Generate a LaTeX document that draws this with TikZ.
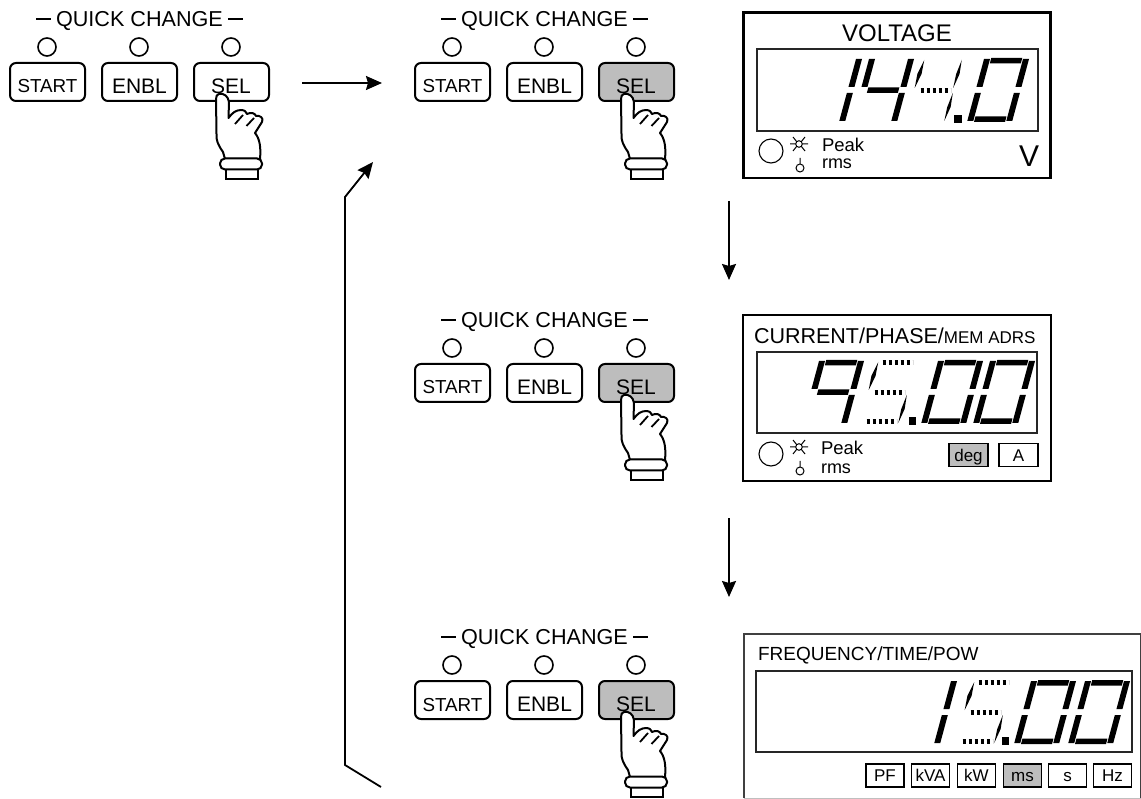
\documentclass[tikz,border=0pt]{standalone}
\usepackage{fontspec}
\setmainfont{Liberation Sans}
\usetikzlibrary{arrows.meta}
\definecolor{btngray}{HTML}{BDBDBD}
\newcommand{\fs}[1]{\fontsize{#1}{#1}\selectfont}
\tikzset{
  txt/.style={inner sep=0pt,outer sep=0pt,text=black,anchor=base},
  led/.style={circle,draw=black,line width=1.6pt,minimum size=18pt,inner sep=0pt,fill=white},
  btn/.style={draw=black,line width=2pt,rounded corners=6pt,minimum width=75pt,minimum height=38pt,inner sep=0pt},
  unitbox/.style={draw=black,line width=1.5pt,minimum width=38pt,minimum height=23pt,inner sep=0pt,font=\fs{17},text height=12pt,text depth=0pt},
  flow/.style={line width=1.8pt,-{Stealth[length=16pt,width=14pt,inset=2pt]}},
  outer/.style={draw=black,line width=2.2pt,fill=white},
  window/.style={draw=black!85,line width=1.1pt}
}
% seven-segment pieces, in a slanted local frame
\newcommand{\segA}{\fill (7,-64) rectangle (38,-58.5);}
\newcommand{\segG}{\fill (7,-34.5) rectangle (38,-29);}
\newcommand{\segD}{\fill (7,-5.5) rectangle (38,0);}
\newcommand{\segF}{\fill (0,-63) rectangle (6,-35);}
\newcommand{\segE}{\fill (0,-29) rectangle (6,-1);}
\newcommand{\segB}{\fill (39,-63) rectangle (45,-35);}
\newcommand{\segC}{\fill (39,-29) rectangle (45,-1);}
\newcommand{\ghA}{\draw[line width=5.5pt,dash pattern=on 3pt off 3pt] (8,-61.5) -- (38,-61.5);}
\newcommand{\ghG}{\draw[line width=5.5pt,dash pattern=on 3pt off 3pt] (8,-31.5) -- (38,-31.5);}
\newcommand{\ghD}{\draw[line width=5.5pt,dash pattern=on 3pt off 3pt] (8,-2.5) -- (38,-2.5);}
\newcommand{\ghF}{\fill (3.5,-62) -- (4.6,-48) -- (1.5,-34) -- (0.4,-48) -- cycle;}
\newcommand{\ghB}{\fill (41,-62) -- (42.6,-48) -- (40,-34) -- (39.2,-48) -- cycle;}
\newcommand{\ghC}{\fill (41,-29) -- (42.6,-15) -- (40,-1) -- (39.2,-15) -- cycle;}
\newcommand{\digit}[3]{\begin{scope}[shift={(#1,#2)},cm={1,0,0.27,1,(0,0)}]#3\end{scope}}
% front-panel group with pressing hand
\newcommand{\panel}[4]{%
\begin{scope}[shift={(#2,#3)}]
  \node[txt,font=\fs{21.6}] (#1title) at (139.5,26.5) {QUICK CHANGE};
  \draw[line width=1.4pt] (36,19) -- (51,19) (228,19) -- (243,19);
  \node[led] (#1ledA) at (47,47) {};
  \node[led] (#1ledB) at (139,47) {};
  \node[led] (#1ledC) at (231,47) {};
  \node[btn] (#1start) at (47.5,82) {};
  \node[btn] (#1enbl) at (139.5,82) {};
  \node[btn,fill=#4] (#1sel) at (231.5,82) {};
  \node[txt,font=\fs{18.8}] (#1startT) at (47.5,93) {START};
  \node[txt,font=\fs{21}] (#1enblT) at (139.5,93.5) {ENBL};
  \node[txt,font=\fs{21}] (#1selT) at (231,93.5) {SEL};
  \draw[line width=2pt,fill=white,line join=round]
    (219,94) .. controls (224,93) and (228,96) .. (229,102)
    -- (228.5,118) .. controls (232,113) and (236,110) .. (241,110)
    .. controls (245,110) and (246,112) .. (247,114)
    .. controls (251,112) and (255,113) .. (256,116)
    .. controls (260,115) and (264,118) .. (262,122)
    -- (255,133) .. controls (260,139) and (261,148) .. (260,159)
    -- (225,159) -- (223,152) .. controls (218,145) and (216,140) .. (216.5,134)
    -- (216,99) .. controls (216,96) and (217,94.5) .. (219,94) -- cycle;
  \draw[line width=1.8pt] (235,124) -- (243,115) (246.5,126) -- (254,118);
  \draw[line width=2pt,fill=white] (226,168) rectangle (258,179);
  \draw[line width=2pt,fill=white,rounded corners=5pt] (220,158.5) rectangle (262,169.5);
\end{scope}}
\newcommand{\sunlamp}[2]{%
\begin{scope}[shift={(#1,#2)},line width=1pt]
  \draw (0,0) circle (3.3);
  \draw (-9,0) -- (-3.3,0) (3.3,0) -- (9,0) (-2.3,-2.3) -- (-6,-7) (2.3,-2.3) -- (6,-7) (-2.3,2.3) -- (-6,7) (2.3,2.3) -- (6,7);
  \draw (1,24) circle (4) (1,20) -- (1,14);
\end{scope}}
\begin{document}
\begin{tikzpicture}[x=1pt,y=-1pt]
\useasboundingbox (0,0) rectangle (1141,799);
\fill[white] (0,0) rectangle (1141,799);
\panel{p}{0}{0}{white}
\panel{q}{405}{0}{btngray}
\panel{r}{405}{301}{btngray}
\panel{s}{405}{618}{btngray}

% connectors
\coordinate (a1) at (302,83); \coordinate (a2) at (382,83);
\coordinate (b1) at (729,201); \coordinate (b2) at (729,280);
\coordinate (c1) at (729,518); \coordinate (c2) at (729,597);
\coordinate (d1) at (381,787); \coordinate (d2) at (345,765); \coordinate (d3) at (345,197); \coordinate (d4) at (373,162);
\draw[flow] (a1) -- (a2);
\draw[flow] (b1) -- (b2);
\draw[flow] (c1) -- (c2);
\draw[flow,line join=miter] (d1) -- (d2) -- (d3) -- (d4);

% display 1
\draw[outer] (743.5,12.5) rectangle (1050.5,178);
\draw[window] (757,49) rectangle (1038,131);
\node[txt,font=\fs{24}] (v1) at (897,42) {VOLTAGE};
\digit{800}{122}{\segB\segC}
\digit{852}{122}{\segF\segG\segB\segC}
\digit{904}{122}{\ghF\ghG\ghB\ghC}
\fill (954,115) rectangle (962,122.7);
\digit{967}{122}{\segA\segB\segC\segD\segE\segF}
\draw[line width=1.1pt] (771,151) circle (12);
\sunlamp{799}{144}
\node[txt,font=\fs{18.5},anchor=base west] (v2) at (822,152) {Peak};
\node[txt,font=\fs{18},anchor=base west] (v3) at (822,168.5) {rms};
\node[txt,font=\fs{30}] (v4) at (1029,167) {V};

% display 2
\draw[outer] (743,315) rectangle (1051,481);
\draw[window] (757,352) rectangle (1037,433);
\node[txt,anchor=base west] (c0) at (754,344) {\fs{21.5}CURRENT/PHASE/\fs{17}MEM ADRS};
\digit{802}{424}{\segA\segF\segG\segB\segC}
\digit{858}{424}{\ghA\ghF\ghG\ghC\ghD}
\fill (909,417) rectangle (916,425);
\digit{921}{424}{\segA\segB\segC\segD\segE\segF}
\digit{973}{424}{\segA\segB\segC\segD\segE\segF}
\draw[line width=1.1pt] (771,454) circle (12);
\sunlamp{799}{447}
\node[txt,font=\fs{18.5},anchor=base west] (c2) at (821,455) {Peak};
\node[txt,font=\fs{18},anchor=base west] (c3) at (821,474) {rms};
\node[unitbox,fill=btngray,minimum width=39pt] (c4) at (968.5,455) {deg};
\node[unitbox,minimum width=39pt] (c5) at (1018.5,455) {A};

% display 3
\draw[line width=1.1pt,draw=black!75] (744,798) -- (744,634) -- (1140.5,634) -- (1140.5,798);
\draw[line width=0.6pt,draw=black!25] (744,798) -- (1140.5,798);
\draw[window] (756,671) rectangle (1132,752);
\node[txt,font=\fs{19},anchor=base west] (f0) at (758,660) {FREQUENCY/TIME/POW};
\digit{895}{744}{\segB\segC}
\digit{954}{744}{\ghA\ghF\ghG\ghC\ghD}
\fill (1002,737) rectangle (1009,745);
\digit{1014}{744}{\segA\segB\segC\segD\segE\segF}
\digit{1068}{744}{\segA\segB\segC\segD\segE\segF}
\node[unitbox] (f1) at (885,775.5) {PF};
\node[unitbox] (f2) at (930.5,775.5) {kVA};
\node[unitbox] (f3) at (976.5,775.5) {kW};
\node[unitbox,fill=btngray] (f4) at (1022.5,775.5) {ms};
\node[unitbox] (f5) at (1067.5,775.5) {s};
\node[unitbox] (f6) at (1112.5,775.5) {Hz};
\end{tikzpicture}
\end{document}
